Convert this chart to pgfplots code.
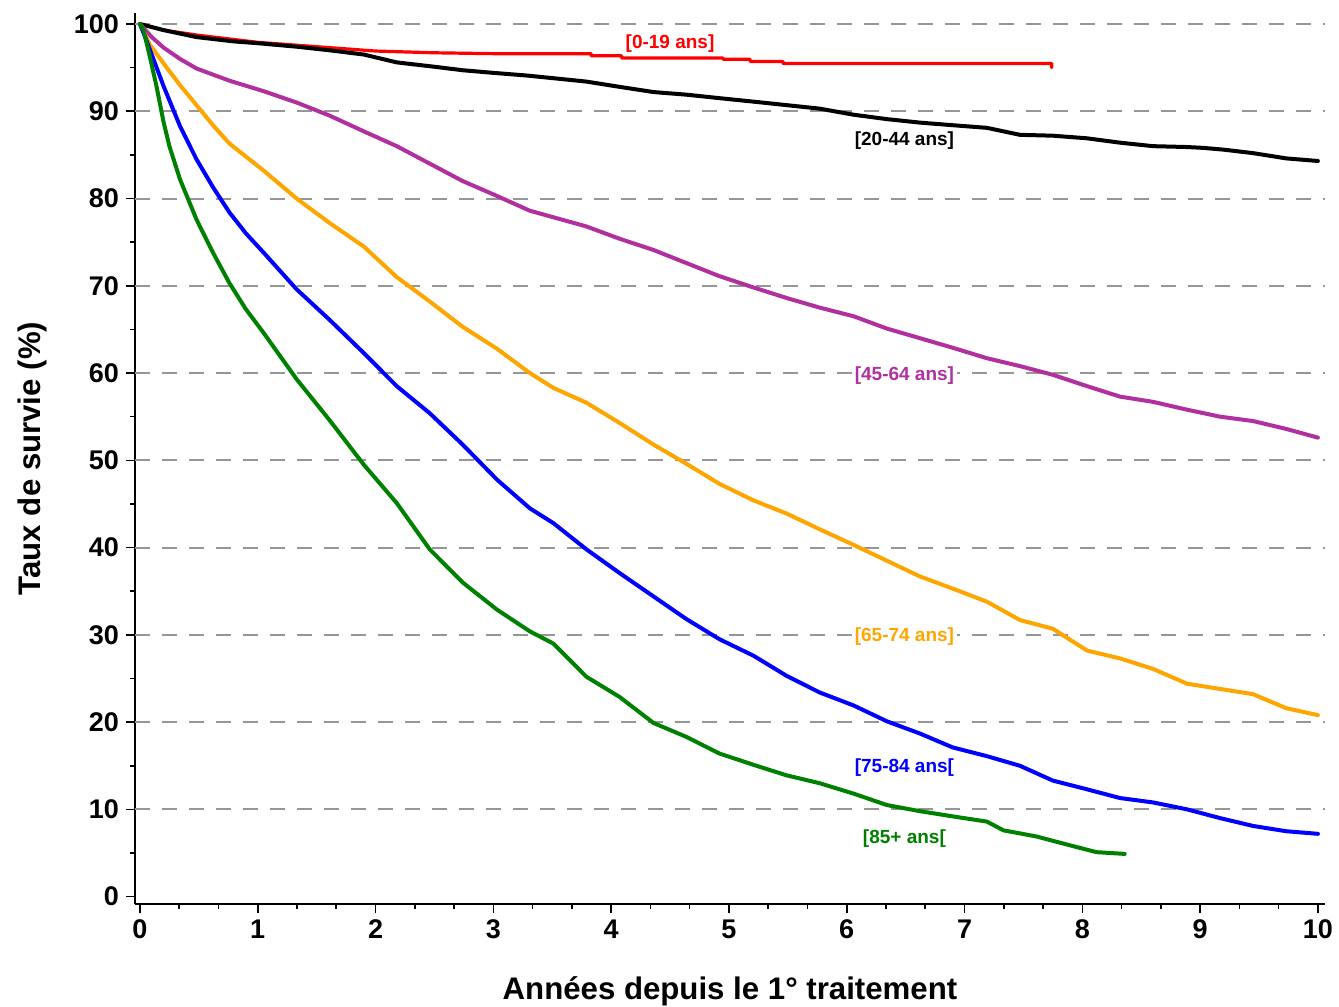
\documentclass[border=0pt]{standalone}
\usepackage{fontspec}
\setmainfont{Liberation Sans}
\usepackage{pgfplots}
\pgfplotsset{compat=1.18}
\definecolor{cpurple}{RGB}{176,48,160}
\definecolor{corange}{RGB}{255,165,0}
\definecolor{cgreen}{RGB}{0,128,0}
\definecolor{cgrid}{RGB}{150,150,150}
\begin{document}
\begin{tikzpicture}
\begin{axis}[
  scale only axis, width=595pt, height=445.5pt,
  xmin=-0.042, xmax=10.06, ymin=-0.84, ymax=101.26,
  axis x line=bottom, axis y line=left,
  axis line style={-, line width=1pt},
  xtick={0,1,...,10}, minor x tick num=2,
  ytick={0,10,...,100}, minor y tick num=1,
  tick align=outside, major tick length=4.5pt, minor tick length=2.5pt,
  tick style={black, line width=0.8pt},
  /pgf/number format/assume math mode=true,
  ticklabel style={font=\fontsize{13.5}{16}\selectfont\bfseries},
  xlabel={Années depuis le 1° traitement},
  ylabel={Taux de survie (\%)},
  xlabel style={font=\fontsize{15.6}{18}\selectfont\bfseries, anchor=base, at={(axis description cs:0.5,-0.1077)}},
  ylabel style={font=\fontsize{15.6}{18}\selectfont\bfseries, anchor=base, rotate=0, at={(axis description cs:-0.0798,0.5)}},
  clip=false,
  every axis plot/.append style={line join=round, line cap=round},
]
\pgfplotsinvokeforeach{10,20,30,40,50,60,70,80,90,100}{
  \draw[cgrid, line width=1pt, dash pattern=on 7.5pt off 6pt] (axis cs:-0.042,#1) -- (axis cs:10.06,#1);
}
\coordinate (bbsw) at (axis cs:-1.188,-12.64);
\coordinate (bbne) at (axis cs:10.179,102.75);

% [0-19 ans]
\addplot[red, line width=1.6pt] coordinates {
(0,100) (0.2,99.3) (0.5,98.7) (1.0,97.9) (1.5,97.4) (2.0,96.9) (2.5,96.7) (3.0,96.6)
(3.83,96.6) (3.83,96.35) (4.09,96.35) (4.09,96.1) (4.95,96.1) (4.95,95.95)
(5.18,95.95) (5.18,95.7) (5.46,95.7) (5.46,95.47) (7.74,95.47) (7.74,95.0)
};
% [20-44 ans]
\addplot[black, line width=2pt] coordinates {
(0,100) (0.2,99.3) (0.48,98.5) (0.8,98.0) (1.0,97.8) (1.33,97.4) (1.6,97.0) (1.9,96.5)
(2.18,95.6) (2.5,95.1) (2.74,94.7) (3.0,94.4) (3.28,94.1) (3.5,93.8) (3.79,93.4)
(4.07,92.8) (4.36,92.2) (4.64,91.9) (4.92,91.5) (5.21,91.1) (5.49,90.7) (5.77,90.3)
(6.06,89.6) (6.34,89.1) (6.62,88.7) (6.9,88.4) (7.19,88.1) (7.47,87.3) (7.75,87.2)
(8.04,86.9) (8.32,86.4) (8.6,86.0) (8.89,85.9) (9.03,85.8) (9.2,85.6) (9.45,85.2)
(9.73,84.6) (10.0,84.3)
};
% [45-64 ans]
\addplot[cpurple, line width=2pt] coordinates {
(0,100) (0.1,98.5) (0.2,97.3) (0.34,96.0) (0.48,94.9) (0.62,94.2) (0.76,93.5)
(1.05,92.3) (1.33,91.0) (1.61,89.5) (1.9,87.7) (2.18,86.0) (2.46,84.0) (2.74,82.0)
(3.03,80.3) (3.31,78.6) (3.79,76.8) (4.07,75.4) (4.36,74.1) (4.64,72.6) (4.92,71.1)
(5.21,69.8) (5.49,68.6) (5.77,67.5) (6.06,66.5) (6.34,65.1) (6.62,64.0) (6.9,62.9)
(7.19,61.7) (7.47,60.8) (7.75,59.8) (8.04,58.5) (8.32,57.3) (8.6,56.7) (8.89,55.8)
(9.17,55.0) (9.45,54.5) (9.73,53.6) (10.0,52.6)
};
% [65-74 ans]
\addplot[corange, line width=2pt] coordinates {
(0,100) (0.085,97.6) (0.2,95.5) (0.34,93.0) (0.48,90.7) (0.62,88.4) (0.76,86.3)
(0.9,84.8) (1.05,83.2) (1.33,80.0) (1.61,77.2) (1.9,74.5) (2.18,71.0) (2.46,68.2)
(2.74,65.3) (3.03,62.8) (3.31,60.0) (3.51,58.3) (3.79,56.6) (4.07,54.3) (4.36,51.8)
(4.64,49.6) (4.92,47.3) (5.21,45.4) (5.49,43.9) (5.77,42.1) (6.06,40.3) (6.34,38.5)
(6.62,36.7) (6.9,35.3) (7.19,33.8) (7.47,31.7) (7.75,30.7) (8.04,28.2) (8.32,27.3)
(8.6,26.1) (8.89,24.4) (9.17,23.8) (9.45,23.2) (9.73,21.6) (10.0,20.8)
};
% [75-84 ans[
\addplot[blue, line width=2pt] coordinates {
(0,100) (0.05,98.3) (0.1,96.5) (0.2,92.9) (0.34,88.3) (0.48,84.5) (0.62,81.3)
(0.76,78.4) (0.9,76.0) (1.05,73.8) (1.33,69.6) (1.61,66.1) (1.9,62.3) (2.18,58.5)
(2.46,55.4) (2.74,51.8) (3.03,47.8) (3.31,44.5) (3.51,42.8) (3.79,39.8) (4.07,37.1)
(4.36,34.4) (4.64,31.8) (4.92,29.5) (5.21,27.6) (5.49,25.3) (5.77,23.4) (6.06,21.9)
(6.34,20.1) (6.62,18.7) (6.9,17.1) (7.19,16.1) (7.47,15.0) (7.75,13.3) (8.04,12.3)
(8.32,11.3) (8.6,10.8) (8.89,10.0) (9.17,9.0) (9.45,8.1) (9.73,7.5) (10.0,7.2)
};
% [85+ ans[
\addplot[cgreen, line width=2pt] coordinates {
(0,100) (0.03,99.3) (0.08,96.5) (0.14,92.9) (0.2,88.8) (0.25,86.0) (0.34,82.2)
(0.48,77.6) (0.62,73.8) (0.76,70.3) (0.9,67.3) (1.05,64.6) (1.33,59.3) (1.61,54.6)
(1.9,49.5) (2.18,45.1) (2.46,39.8) (2.74,36.0) (3.03,32.9) (3.31,30.4) (3.51,29.0)
(3.79,25.2) (4.07,22.9) (4.36,19.9) (4.64,18.3) (4.92,16.4) (5.21,15.1) (5.49,13.9)
(5.77,13.0) (6.06,11.8) (6.34,10.5) (6.62,9.8) (6.9,9.2) (7.19,8.6) (7.33,7.6)
(7.61,6.9) (7.89,5.9) (8.12,5.1) (8.36,4.9)
};

\begin{scope}[every node/.style={font=\fontsize{9.5}{11}\selectfont\bfseries, inner sep=1.5pt, fill=white}]
\node[text=red] at (axis cs:4.5,97.7) {[0-19 ans]};
\node[text=black] at (axis cs:6.49,86.6) {[20-44 ans]};
\node[text=cpurple] at (axis cs:6.49,59.7) {[45-64 ans]};
\node[text=corange] at (axis cs:6.49,29.8) {[65-74 ans]};
\node[text=blue] at (axis cs:6.49,14.75) {[75-84 ans[};
\node[text=cgreen] at (axis cs:6.49,6.7) {[85+ ans[};
\end{scope}
\end{axis}
\pgfresetboundingbox
\path (bbsw) rectangle (bbne);
\end{tikzpicture}
\end{document}
